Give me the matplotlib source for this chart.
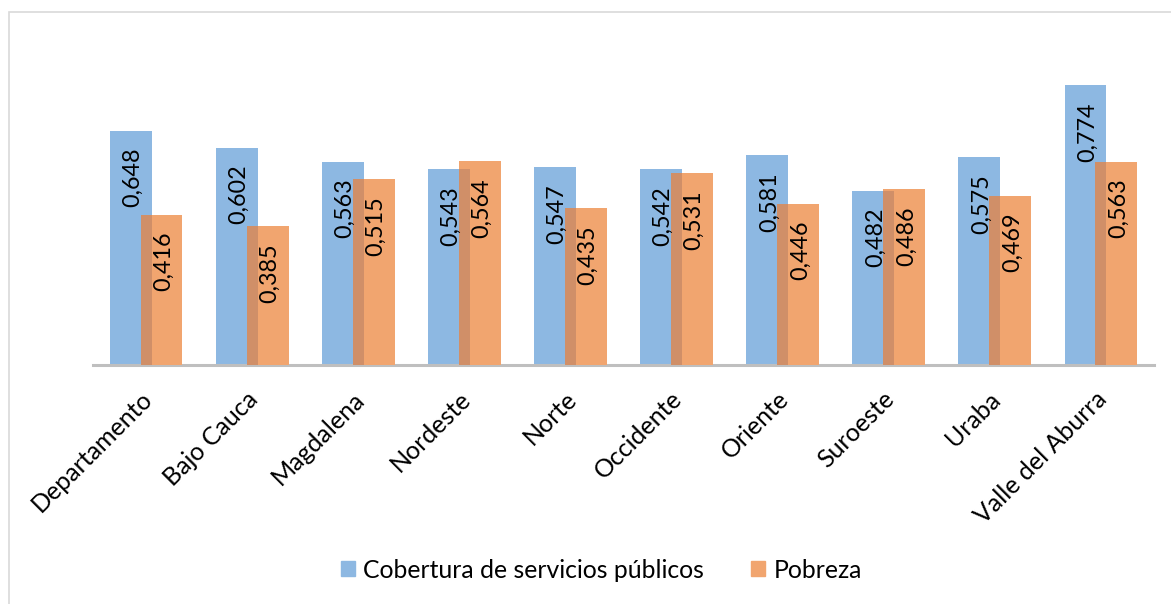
import numpy as np
import matplotlib
matplotlib.use('Agg')
import matplotlib.pyplot as plt
from matplotlib.patches import Rectangle, Patch
from matplotlib.transforms import offset_copy, ScaledTranslation

# data
regiones = ['Departamento', 'Bajo Cauca', 'Magdalena', 'Nordeste', 'Norte',
            'Occidente', 'Oriente', 'Suroeste', 'Uraba', 'Valle del Aburra']
cobertura = [0.648, 0.602, 0.563, 0.543, 0.547, 0.542, 0.581, 0.482, 0.575, 0.774]
pobreza = [0.416, 0.385, 0.515, 0.564, 0.435, 0.531, 0.446, 0.486, 0.469, 0.563]

azul = '#8DB8E2'
naranja = '#F1A56F'
mezcla = '#D08F68'

plt.rcParams['font.family'] = ['Lato', 'DejaVu Sans']
fs_val = 16.8
fs_cat = 18
fs_leg = 17.8

W, H = 1171, 604
fig = plt.figure(figsize=(W/100, H/100), dpi=100)

# marco exterior del grafico
fig.patches.append(Rectangle((9/W, -0.1), 1.2, 1 - 12/H + 0.1, transform=fig.transFigure,
                             fill=False, edgecolor='#D9D9D9', linewidth=1.2))

ax = fig.add_axes([93/W, (H-365)/H, (1154-93)/W, (365-40)/H])
x = np.arange(len(regiones))
w = 0.395
d = 0.146

ax.bar(x - d, cobertura, w, color=azul, zorder=2)
ax.bar(x + d, pobreza, w, color=naranja, zorder=3)
# zona donde se solapan las barras
solape = np.minimum(cobertura, pobreza)
ov_left = x + d - w/2
ov_w = (x - d + w/2) - ov_left
ax.bar(ov_left, solape, ov_w, align='edge', color=mezcla, zorder=4)

ax.set_xlim(-0.5, len(regiones) - 0.5)
ax.set_ylim(0, 0.9)
for s in ['top', 'right', 'left']:
    ax.spines[s].set_visible(False)
ax.spines['bottom'].set_color('#BFBFBF')
ax.spines['bottom'].set_linewidth(2.2)
ax.set_yticks([])

# etiquetas de valor dentro de las barras
lab_tr = offset_copy(ax.transData, fig=fig, x=2, y=-17, units='dots')
for i in range(len(regiones)):
    ax.text(x[i] - d, cobertura[i], ('%.3f' % cobertura[i]).replace('.', ','),
            rotation=90, ha='center', va='top', fontsize=fs_val, transform=lab_tr, zorder=6)
    ax.text(x[i] + d, pobreza[i], ('%.3f' % pobreza[i]).replace('.', ','),
            rotation=90, ha='center', va='top', fontsize=fs_val, transform=lab_tr, zorder=6)

ax.set_xticks(x)
ax.set_xticklabels(regiones, rotation=45, ha='right', va='top',
                   rotation_mode='anchor', fontsize=fs_cat)
ax.tick_params(axis='x', length=0, pad=16)
for t in ax.get_xticklabels():
    t.set_transform(t.get_transform() + ScaledTranslation(-6/100, 0, fig.dpi_scale_trans))

handles = [Patch(color=azul, label='Cobertura de servicios públicos'),
           Patch(color=naranja, label='Pobreza')]
fig.legend(handles=handles, loc='center', bbox_to_anchor=(0.5137, 1 - 570/H),
           ncol=2, frameon=False, fontsize=fs_leg, handlelength=0.55, handleheight=0.55,
           handletextpad=0.35, columnspacing=1.9)

fig.savefig('out.png', dpi=100)
